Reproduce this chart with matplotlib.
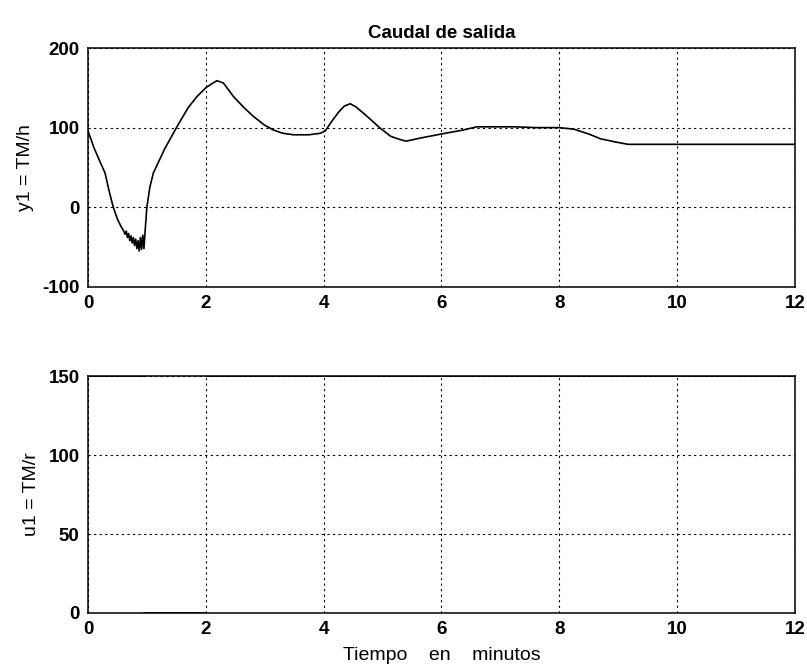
import numpy as np
import matplotlib.pyplot as plt

plt.rcParams['font.family'] = ['Liberation Sans', 'DejaVu Sans']
plt.rcParams['axes.unicode_minus'] = False

# salida y1 (TM/h)
t_y1 = [0.0, 0.1, 0.2, 0.29, 0.36, 0.43, 0.5, 0.56, 0.6, 0.63, 0.65, 0.67, 0.69, 0.71, 0.73,
        0.75, 0.77, 0.79, 0.81, 0.83, 0.85, 0.87, 0.89, 0.91, 0.93, 0.95, 0.97, 1.0, 1.05,
        1.11, 1.3, 1.51, 1.7, 1.85, 2.0, 2.1, 2.19, 2.3, 2.47, 2.65, 2.81, 3.0, 3.15, 3.3, 3.49,
        3.75, 3.95, 4.03, 4.12, 4.25, 4.35, 4.45, 4.55, 4.74, 4.95, 5.14, 5.3, 5.4, 5.65, 6.0, 6.37,
        6.6, 7.0, 7.25, 7.6, 8.0, 8.25, 8.5, 8.7, 8.95, 9.17, 9.5, 10.0, 11.0, 12.0]
y1 = [96, 75, 58, 43, 20, 0, -15, -24, -29, -34, -30, -38, -33, -42, -36,
      -45, -38, -48, -40, -52, -42, -55, -38, -53, -35, -52, -30, 0, 25,
      43, 73, 101, 125, 139, 150, 155, 159, 156, 139, 125, 114, 103, 97, 93, 91,
      91, 93, 96, 106, 119, 127, 130, 126, 114, 100, 89, 85, 83, 87, 92, 97,
      101, 101, 101, 100, 100, 98, 92, 86, 82, 79, 79, 79, 79, 79]

# entrada u1 (TM/r); los saltos verticales no se ven en el original
t_u1 = [0.0, 0.95, np.nan, 0.95, 2.0, np.nan, 2.0, 12.0]
u1 = [150, 150, np.nan, 0, 0, np.nan, 150, 150]

fig = plt.figure(figsize=(8.07, 6.67), dpi=100)
ax1 = fig.add_axes([0.109, 0.570, 0.876, 0.358])
ax2 = fig.add_axes([0.109, 0.081, 0.876, 0.355])

grid_style = dict(color='black', linestyle=(0, (2, 3)), linewidth=0.8)

ax1.plot(t_y1, y1, color='black', linewidth=1.2)
ax1.set_xlim(0, 12)
ax1.set_ylim(-100, 200)
ax1.set_xticks([0, 2, 4, 6, 8, 10, 12])
ax1.set_yticks([-100, 0, 100, 200])
ax1.grid(True, **grid_style)
ax1.set_title('Caudal de salida', fontsize=13.5, fontweight='bold', pad=7)
ax1.set_ylabel('y1 = TM/h', fontsize=14, labelpad=6)

ax2.plot(t_u1, u1, color='black', linewidth=1.2)
ax2.set_xlim(0, 12)
ax2.set_ylim(0, 150)
ax2.set_xticks([0, 2, 4, 6, 8, 10, 12])
ax2.set_yticks([0, 50, 100, 150])
ax2.grid(True, **grid_style)
ax2.set_xlabel('Tiempo    en    minutos', fontsize=14, labelpad=6)
ax2.set_ylabel('u1 = TM/r', fontsize=14, labelpad=6)

for ax in (ax1, ax2):
    ax.tick_params(direction='in', length=0, labelsize=13.5, pad=6)
    for lab in ax.get_xticklabels() + ax.get_yticklabels():
        lab.set_fontweight('bold')
    for sp in ax.spines.values():
        sp.set_linewidth(1.1)

fig.savefig('out.png', dpi=100)
